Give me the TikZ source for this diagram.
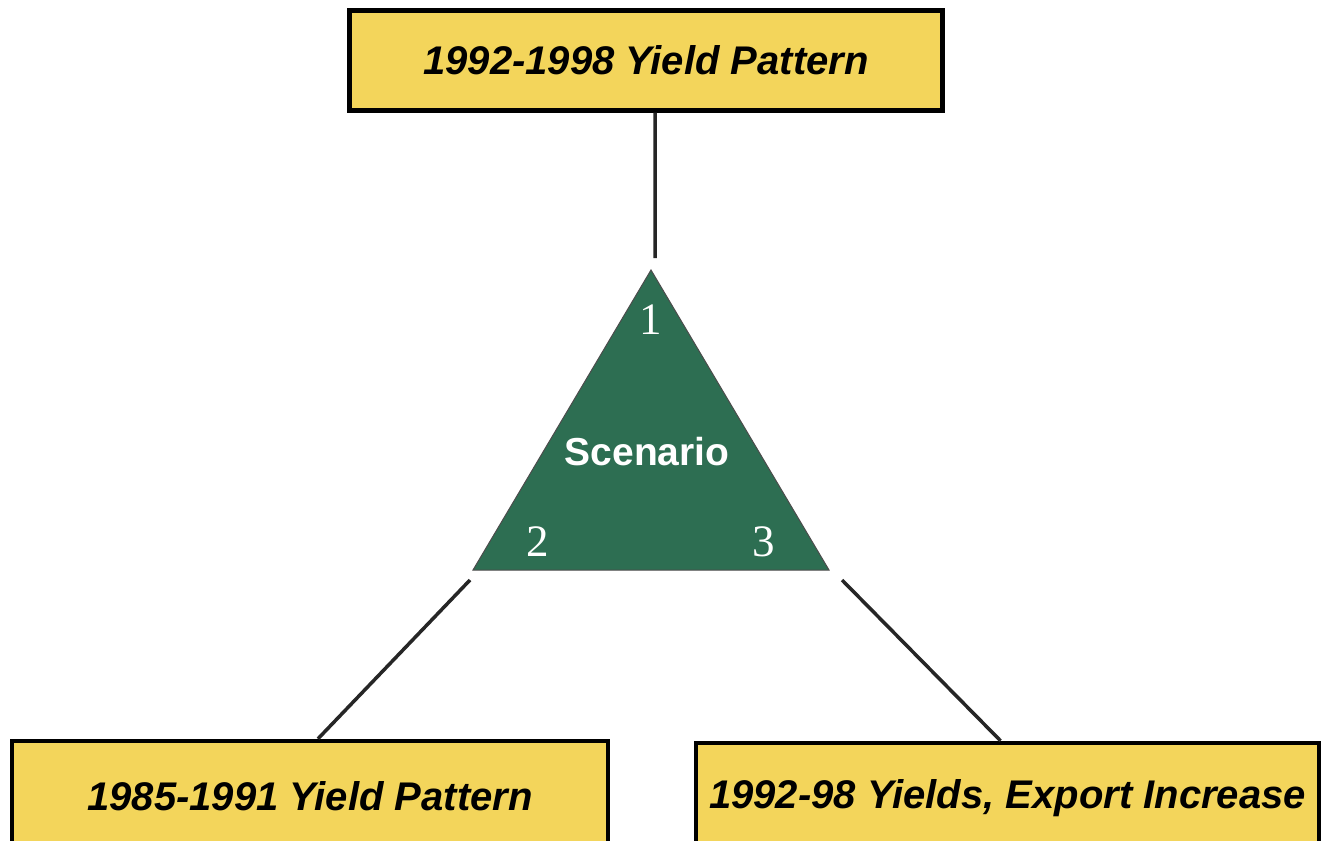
\documentclass[tikz,border=0pt]{standalone}
\usepackage{fontspec}
\setmainfont{Liberation Serif}
\setsansfont{Liberation Sans}
\usetikzlibrary{positioning}
\definecolor{boxyellow}{RGB}{243,213,91}
\definecolor{scengreen}{RGB}{45,110,82}
\begin{document}
\begin{tikzpicture}[x=1pt,y=-1pt,
  yield box/.style={draw=black, line width=4.5pt, fill=boxyellow, inner sep=0pt,
    font=\sffamily\bfseries\itshape\fontsize{40}{48}\selectfont},
  corner num/.style={text=white, font=\rmfamily\fontsize{45}{50}\selectfont},
  link/.style={draw=black!85, line width=3.5pt}]
        \clip (0,0) rectangle (1324,840);
        \fill[white] (0,0) rectangle (1324,840);

          % the three scenario boxes
          \node[yield box, minimum width=593pt, minimum height=100pt] (top) at (646,60.5) {1992-1998 Yield Pattern};
          \node[yield box, minimum width=596pt, minimum height=110pt] (left) at (310,796) {1985-1991 Yield Pattern};
          \node[yield box, minimum width=623pt, minimum height=110pt] (right) at (1007.5,798) {1992-98 Yields, Export Increase};

          % triangle
          \coordinate (t1) at (651,270);
          \coordinate (t2) at (473,570);
          \coordinate (t3) at (829,570);
          \draw[fill=scengreen, draw=black!70, line width=1pt] (t1) -- (t2) -- (t3) -- cycle;

          \node[text=white, font=\sffamily\bfseries\fontsize{39}{46}\selectfont] (scen) at (647,452) {Scenario};
          \node[corner num] (n1) at (651,320) {1};
          \node[corner num] (n2) at (538,542) {2};
          \node[corner num] (n3) at (764,542) {3};

          % free ends near the corners
          \coordinate (e1) at (655,258);
          \coordinate (e2) at (470,580);
          \coordinate (e3) at (842,580);

          \path[link]
            (e1 |- top.south) -- (e1)
            (e2) -- ([xshift=8pt]left.north)
            (e3) -- ([xshift=-7pt]right.north);

        \end{tikzpicture}
\end{document}
